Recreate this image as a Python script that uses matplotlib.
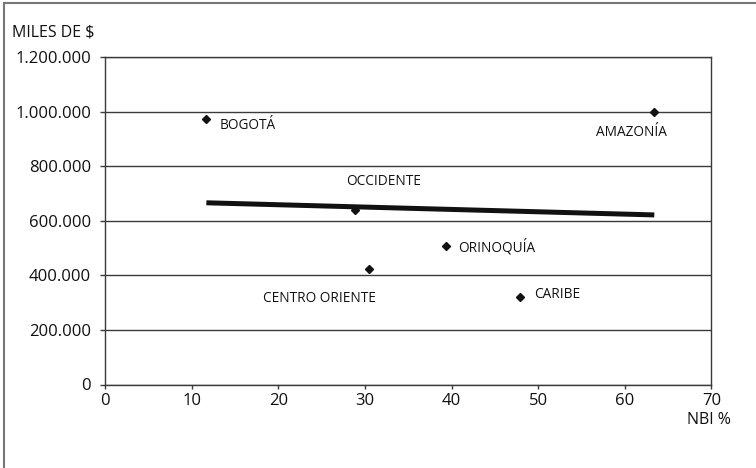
import numpy as np
import matplotlib
matplotlib.use("Agg")
import matplotlib.pyplot as plt
from matplotlib.ticker import FuncFormatter, MultipleLocator
from matplotlib.lines import Line2D

# datos por region
regiones = ["BOGOTÁ", "OCCIDENTE", "CENTRO ORIENTE", "ORINOQUÍA", "CARIBE", "AMAZONÍA"]
nbi = [11.7, 28.9, 30.5, 39.4, 47.9, 63.4]
ingreso = [975000, 640000, 423000, 509000, 321000, 1000000]

# desplazamiento de cada etiqueta (pixeles) y alineacion
offsets = [(13, -7), (28, 28), (-50, -29), (12, -2), (14, 2), (-23, -21)]
aligns = ["left", "center", "center", "left", "left", "center"]

plt.rcParams["font.family"] = ["Open Sans", "DejaVu Sans"]
gris = "#3a3a3a"

fig = plt.figure(figsize=(7.56, 4.68), dpi=100)
ax = fig.add_axes([105 / 756, 1 - 384.5 / 468, (711.5 - 105) / 756, (384.5 - 57.3) / 468])

ax.set_xlim(0, 70)
ax.set_ylim(0, 1200000)
ax.xaxis.set_major_locator(MultipleLocator(10))
ax.yaxis.set_major_locator(MultipleLocator(200000))
ax.yaxis.set_major_formatter(FuncFormatter(lambda v, p: f"{int(v):,}".replace(",", ".")))

ax.grid(axis="y", color=gris, lw=1.0)
ax.set_axisbelow(True)
for s in ax.spines.values():
    s.set_color(gris)
    s.set_linewidth(1.0)
ax.tick_params(axis="y", length=3.6, width=1.0, color=gris, pad=6.5, labelsize=12, labelcolor="#111")
ax.tick_params(axis="x", length=3.0, width=1.0, color=gris, pad=3.0, labelsize=12, labelcolor="#111")

# linea de tendencia
m, b = np.polyfit(nbi, ingreso, 1)
xs = np.array([min(nbi), max(nbi)])
ax.plot(xs, m * xs + b, color="#111", lw=3.6, solid_capstyle="butt", zorder=3)

ax.plot(nbi, ingreso, "D", color="#111", ms=3.6, zorder=4, clip_on=False)
for nom, x, y, off, al in zip(regiones, nbi, ingreso, offsets, aligns):
    ax.annotate(nom, (x, y), xytext=off, textcoords="offset pixels",
                ha=al, va="center", fontsize=9.8, color="#111")

fig.text(12 / 756, 1 - 33 / 468, "MILES DE $", fontsize=11.5, va="center", ha="left", color="#111")
fig.text(731 / 756, 1 - 420 / 468, "NBI %", fontsize=11.5, va="center", ha="right", color="#111")

# marco exterior (solo arriba e izquierda visibles)
fig.add_artist(Line2D([4 / 756, 1], [1 - 3 / 468, 1 - 3 / 468], color="#777", lw=1.5, transform=fig.transFigure))
fig.add_artist(Line2D([4 / 756, 4 / 756], [0, 1 - 3 / 468], color="#777", lw=1.5, transform=fig.transFigure))

fig.savefig("out.png", dpi=100)
